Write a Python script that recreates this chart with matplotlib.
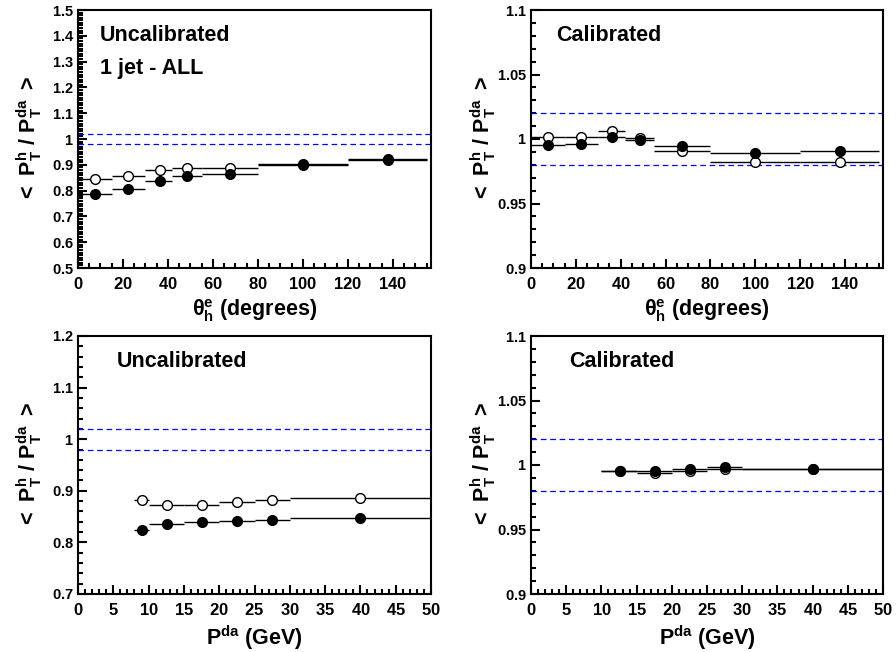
import numpy as np
import matplotlib
matplotlib.use("Agg")
import matplotlib.pyplot as plt
from matplotlib.ticker import MultipleLocator, FuncFormatter

plt.rcParams['font.family'] = ['Liberation Sans', 'DejaVu Sans']
plt.rcParams['font.weight'] = 'bold'
plt.rcParams['mathtext.fontset'] = 'custom'
plt.rcParams['mathtext.rm'] = 'Liberation Sans:bold'
plt.rcParams['mathtext.bf'] = 'Liberation Sans:bold'
plt.rcParams['mathtext.it'] = 'Liberation Sans:bold:italic'

# ---- data: theta bins ----
th_edges = [0, 15, 30, 42, 55, 80, 120, 155]
th_x = [7.6, 22.4, 36.3, 48.6, 67.4, 100, 137.8]
th_unc_open = [0.844, 0.857, 0.879, 0.889, 0.888, 0.900, 0.918]
th_unc_fill = [0.786, 0.805, 0.836, 0.857, 0.866, 0.902, 0.922]
th_cal_open = [1.0017, 1.0017, 1.0060, 1.0010, 0.9906, 0.9822, 0.9825]
th_cal_fill = [0.9952, 0.9960, 1.0017, 0.9990, 0.9944, 0.9893, 0.9908]

# ---- data: P^da bins ----
pu_edges = [8, 10, 15, 20, 25, 30, 50]
pu_x = [9.0, 12.6, 17.5, 22.5, 27.5, 40]
pu_unc_open = [0.882, 0.873, 0.873, 0.878, 0.882, 0.886]
pu_unc_fill = [0.8235, 0.8365, 0.839, 0.841, 0.844, 0.8475]

pc_edges = [10, 15, 20, 25, 30, 50]
pc_x = [12.6, 17.6, 22.6, 27.5, 40]
pc_cal_open = [0.9956, 0.9935, 0.9956, 0.9969, 0.9969]
pc_cal_fill = [0.9956, 0.9956, 0.9969, 0.9987, 0.9969]

W, H = 896, 652
fig = plt.figure(figsize=(W / 100, H / 100), dpi=100)


def make_ax(l, t, r, b):
    return fig.add_axes([l / W, 1 - b / H, (r - l) / W, (b - t) / H])


def fmt(v, pos):
    return r'$\mathbf{%s}$' % f'{v:g}'


def style(ax, xlim, ylim, xmaj, xmin, ymaj, ymin, xlabel):
    ax.set_xlim(*xlim)
    ax.set_ylim(*ylim)
    ax.xaxis.set_major_locator(MultipleLocator(xmaj))
    ax.xaxis.set_minor_locator(MultipleLocator(xmin))
    ax.yaxis.set_major_locator(MultipleLocator(ymaj))
    ax.yaxis.set_minor_locator(MultipleLocator(ymin))
    ax.yaxis.set_major_formatter(FuncFormatter(fmt))
    ax.xaxis.set_major_formatter(FuncFormatter(fmt))
    ax.tick_params(which='both', direction='in', top=False, right=False, width=1.5)
    ax.tick_params(which='major', length=6.5)
    ax.tick_params(which='minor', length=3.6)
    ax.tick_params(axis='x', labelsize=12, pad=6)
    ax.tick_params(axis='y', labelsize=10.5, pad=3)
    for s in ax.spines.values():
        s.set_linewidth(1.5)
    ax.set_ylabel(r'$\mathbf{<\ P_{T}^{h}\ /\ P_{T}^{da}\ >}$', fontsize=15.5, fontweight='bold')
    ax.yaxis.set_label_coords(-0.095, 0.5)
    ax.set_xlabel(xlabel, fontsize=15.5, fontweight='bold')
    ax.xaxis.set_label_coords(0.5, -0.115)
    ax.axhline(1.02, color='blue', lw=0.9, dashes=(4.5, 3))
    ax.axhline(0.98, color='blue', lw=0.9, dashes=(4.5, 3))


def draw(ax, edges, x, vals, filled):
    e = np.array(edges)
    ax.hlines(vals, e[:-1], e[1:], color='black', lw=1.0, zorder=3)
    ax.plot(x, vals, 'o', ms=7, mec='black', mew=1.0,
            mfc='black' if filled else 'white', zorder=4 if filled else 3.5)


th_label = r'$\mathbf{\theta_{h}^{e}}$ (degrees)'
p_label = r'$\mathbf{P^{da}}$ (GeV)'

ax1 = make_ax(78, 10, 431, 268)
style(ax1, (0, 157), (0.5, 1.5), 20, 5, 0.1, 0.01, th_label)
draw(ax1, th_edges, th_x, th_unc_open, False)
draw(ax1, th_edges, th_x, th_unc_fill, True)
ax1.text(0.062, 0.90, 'Uncalibrated', transform=ax1.transAxes, fontsize=15.5,
         fontweight='bold', va='center')
ax1.text(0.062, 0.775, '1 jet - ALL', transform=ax1.transAxes, fontsize=15.5,
         fontweight='bold', va='center')

ax2 = make_ax(531, 10, 883, 268)
style(ax2, (0, 157), (0.9, 1.1), 20, 5, 0.05, 0.01, th_label)
draw(ax2, th_edges, th_x, th_cal_open, False)
draw(ax2, th_edges, th_x, th_cal_fill, True)
ax2.text(0.071, 0.90, 'Calibrated', transform=ax2.transAxes, fontsize=15.5,
         fontweight='bold', va='center')

ax3 = make_ax(78, 336, 431, 594)
style(ax3, (0, 50), (0.7, 1.2), 5, 1, 0.1, 0.02, p_label)
draw(ax3, pu_edges, pu_x, pu_unc_open, False)
draw(ax3, pu_edges, pu_x, pu_unc_fill, True)
ax3.text(0.11, 0.90, 'Uncalibrated', transform=ax3.transAxes, fontsize=15.5,
         fontweight='bold', va='center')

ax4 = make_ax(531, 336, 883, 594)
style(ax4, (0, 50), (0.9, 1.1), 5, 1, 0.05, 0.01, p_label)
draw(ax4, pc_edges, pc_x, pc_cal_open, False)
draw(ax4, pc_edges, pc_x, pc_cal_fill, True)
ax4.text(0.108, 0.90, 'Calibrated', transform=ax4.transAxes, fontsize=15.5,
         fontweight='bold', va='center')

fig.savefig('out.png', dpi=100)
